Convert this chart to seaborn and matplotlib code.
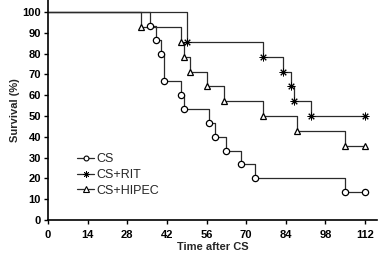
import pandas as pd
import matplotlib
matplotlib.use("Agg")
import matplotlib.pyplot as plt
import seaborn as sns

# Kaplan-Meier steps (time, survival %)
cs_time = [0, 36, 38, 40, 41, 47, 48, 57, 59, 63, 68, 73, 105, 112]
cs_surv = [100, 93.3, 86.7, 80, 66.7, 60, 53.3, 46.7, 40, 33.3, 26.7, 20, 13.3, 13.3]

rit_time = [0, 49, 76, 83, 86, 87, 93, 112]
rit_surv = [100, 85.7, 78.6, 71.4, 64.3, 57.1, 50, 50]

hipec_time = [0, 33, 47, 48, 50, 56, 62, 76, 88, 105, 112]
hipec_surv = [100, 92.9, 85.7, 78.6, 71.4, 64.3, 57.1, 50, 42.9, 35.7, 35.7]

x_ticks = list(range(0, 113, 14))
y_ticks = list(range(0, 101, 10))

sns.set_style("ticks")
plt.rcParams['font.family'] = ['Liberation Sans', 'DejaVu Sans']

fig = plt.figure(figsize=(3.78, 2.59), dpi=100)
ax = fig.add_axes([48 / 378, 39 / 259, 329 / 378, 220 / 259])

line_col = "#2b2b2b"
groups = [
    ("CS", cs_time, cs_surv, "o", 4.5, 0.9),
    ("CS+RIT", rit_time, rit_surv, (8, 2, 0), 5.5, 0.7),
    ("CS+HIPEC", hipec_time, hipec_surv, "^", 5, 0.9),
]

handles = []
for name, t, s, mk, ms, mw in groups:
    df = pd.DataFrame({"t": t, "s": s})
    sns.lineplot(data=df, x="t", y="s", ax=ax, estimator=None, sort=False,
                 drawstyle="steps-post", color=line_col, lw=0.9)
    # markers at each event (skip the starting point)
    ax.plot(df["t"][1:], df["s"][1:], ls="none", marker=mk, ms=ms,
            mfc="white", mec="black", mew=mw, zorder=5)
    h, = ax.plot([], [], color=line_col, lw=0.9, marker=mk, ms=ms - 1,
                 mfc="white", mec="black", mew=mw - 0.1)
    handles.append((h, name))

ax.set_xlim(0, 116.2)
ax.set_ylim(0, 105.8)
ax.set_xticks(x_ticks)
ax.set_yticks(y_ticks)
ax.tick_params(axis="both", direction="out", length=3, width=1,
               labelsize=8, colors="black")
ax.tick_params(axis="x", pad=4)
ax.tick_params(axis="y", pad=2)
for lab in ax.get_xticklabels() + ax.get_yticklabels():
    lab.set_fontweight("bold")

sns.despine(ax=ax)
for sp in ("left", "bottom"):
    ax.spines[sp].set_linewidth(1.2)
    ax.spines[sp].set_color("black")

ax.set_xlabel("Time after CS", fontsize=8, fontweight="bold", labelpad=2)
ax.set_ylabel("Survival (%)", fontsize=8, fontweight="bold", labelpad=2)

ax.legend([h for h, _ in handles], [n for _, n in handles],
          loc="center left", bbox_to_anchor=(0.088, 0.205), frameon=False,
          fontsize=9, handlelength=1.4, handletextpad=0.15,
          labelspacing=0.3, borderpad=0, borderaxespad=0)

plt.savefig("out.png", dpi=100)
